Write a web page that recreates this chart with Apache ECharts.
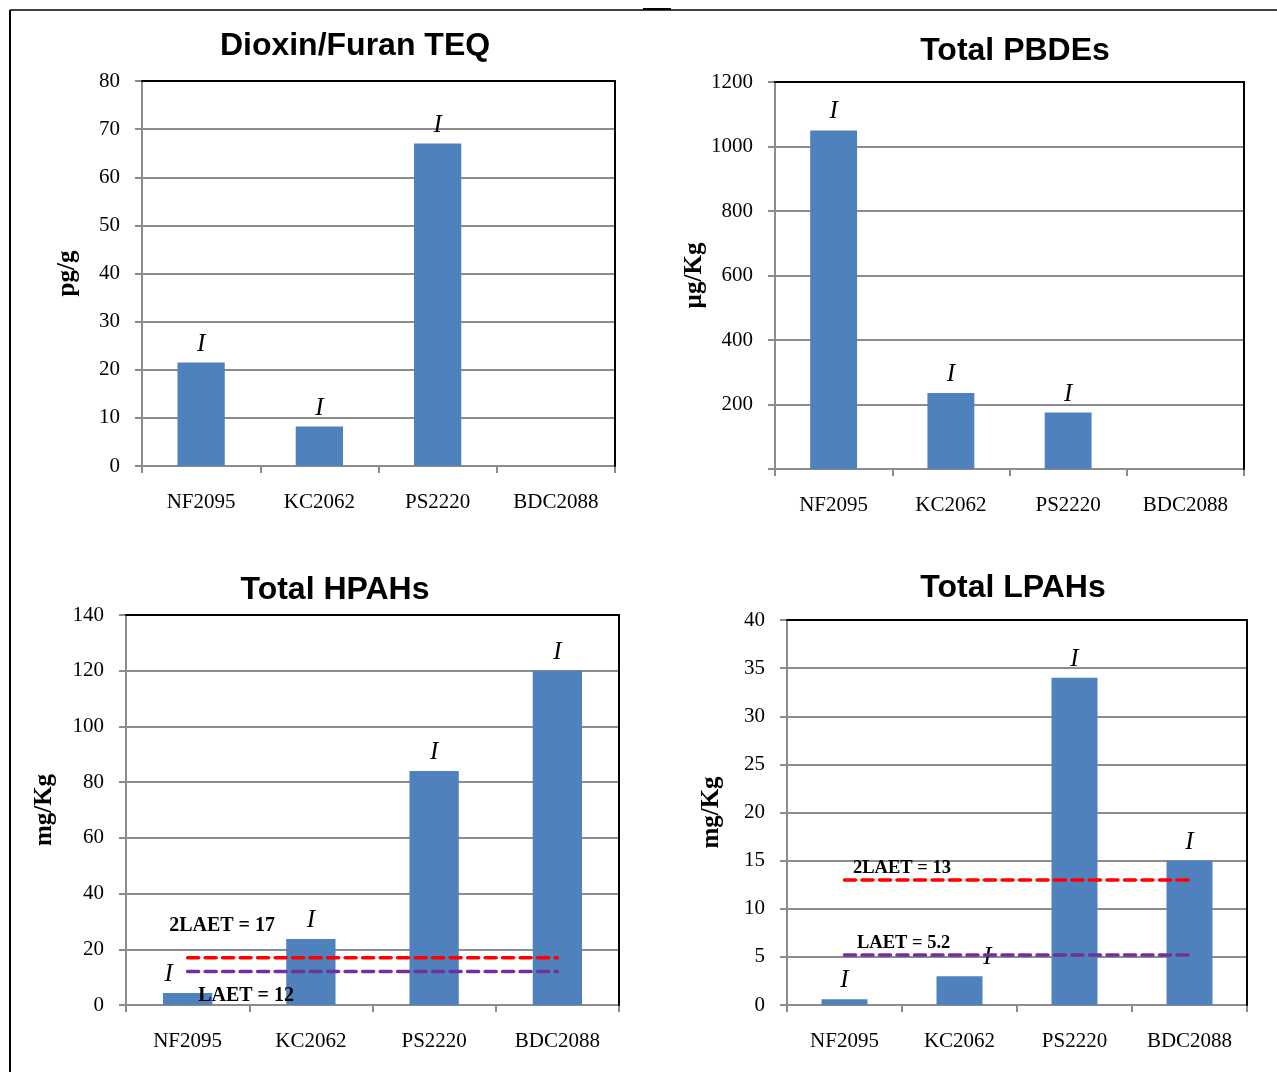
<!DOCTYPE html>
<html>
<head>
<meta charset="utf-8">
<script src="https://cdn.jsdelivr.net/npm/echarts@6/dist/echarts.min.js"></script>
<style>
  html, body { margin: 0; padding: 0; background: #fff; }
  #chart { width: 1277px; height: 1072px; }
</style>
</head>
<body>
<div id="chart"></div>
<script>
// Sample stations
const categories = ['NF2095', 'KC2062', 'PS2220', 'BDC2088'];

// Measured concentrations (null = no result plotted)
const dioxinTEQ  = [21.5, 8.2, 67, null];     // pg/g
const totalPBDEs = [1050, 236, 175, null];    // µg/Kg
const totalHPAHs = [4.3, 23.7, 84, 120];      // mg/Kg
const totalLPAHs = [0.6, 3.0, 34, 15];        // mg/Kg

// Screening levels
const hpahLAET = 12;
const hpah2LAET = 17;
const lpahLAET = 5.2;
const lpah2LAET = 13;

// Data qualifier shown above each result
const qualifier = 'I';

// Value axis ranges
const dioxinTicks = { min: 0, max: 80, interval: 10 };
const pbdeTicks   = { min: 0, max: 1200, interval: 200 };
const hpahTicks   = { min: 0, max: 140, interval: 20 };
const lpahTicks   = { min: 0, max: 40, interval: 5 };

const SERIF = '"Liberation Serif", "Times New Roman", serif';
const SANS = '"Liberation Sans", Arial, sans-serif';
const BAR_COLOR = '#4F81BD';
const GRID_GRAY = '#8C8C8C';

const panels = [
  { title: 'Dioxin/Furan TEQ', unit: 'pg/g', data: dioxinTEQ, ticks: dioxinTicks,
    grid: { left: 142, top: 81, width: 473, height: 385 }, titlePos: [355, 30], nameGap: 62, hideZero: false },
  { title: 'Total PBDEs', unit: 'µg/Kg', data: totalPBDEs, ticks: pbdeTicks,
    grid: { left: 775, top: 82, width: 469, height: 387 }, titlePos: [1015, 35], nameGap: 66, hideZero: true },
  { title: 'Total HPAHs', unit: 'mg/Kg', data: totalHPAHs, ticks: hpahTicks,
    grid: { left: 126, top: 615, width: 493, height: 390 }, titlePos: [335, 574], nameGap: 69, hideZero: false,
    labelShift: { 0: [-19, 0] },
    limits: [
      { value: hpah2LAET, name: '2LAET', color: '#FF0000', offset: [-19, -32], size: 20 },
      { value: hpahLAET, name: 'LAET', color: '#7030A0', offset: [10, 24], size: 20 }
    ] },
  { title: 'Total LPAHs', unit: 'mg/Kg', data: totalLPAHs, ticks: lpahTicks,
    grid: { left: 787, top: 620, width: 460, height: 385 }, titlePos: [1013, 572], nameGap: 63, hideZero: false,
    labelShift: { 1: [28, 0] },
    limits: [
      { value: lpah2LAET, name: '2LAET', color: '#FF0000', offset: [8, -12], size: 18.5 },
      { value: lpahLAET, name: 'LAET', color: '#7030A0', offset: [12, -12], size: 18.5 }
    ] }
];

const option = {
  animation: false,
  backgroundColor: '#fff',
  title: [],
  grid: [],
  xAxis: [],
  yAxis: [],
  series: [],
  graphic: [
    // outer frame lines
    { type: 'line', shape: { x1: 10, y1: 10, x2: 1277, y2: 10 }, style: { stroke: '#000', lineWidth: 1.5 }, silent: true },
    { type: 'line', shape: { x1: 10, y1: 10, x2: 10, y2: 1072 }, style: { stroke: '#000', lineWidth: 2 }, silent: true },
    { type: 'rect', shape: { x: 643, y: 8, width: 28, height: 2 }, style: { fill: '#000' }, silent: true }
  ]
};

panels.forEach((p, i) => {
  option.title.push({
    text: p.title,
    left: p.titlePos[0],
    top: p.titlePos[1],
    textAlign: 'center',
    padding: 0,
    textStyle: { fontFamily: SANS, fontWeight: 'bold', fontSize: 32, color: '#000' }
  });

  option.grid.push(Object.assign({ containLabel: false }, p.grid));

  // bottom category axis
  option.xAxis.push({
    type: 'category',
    gridIndex: i,
    data: categories,
    boundaryGap: true,
    axisLine: { show: true, onZero: false, lineStyle: { color: GRID_GRAY, width: 2 } },
    axisTick: { show: true, length: 7, lineStyle: { color: GRID_GRAY, width: 2 } },
    axisLabel: { margin: 26, fontFamily: SERIF, fontSize: 21, color: '#000' },
    splitLine: { show: false }
  });
  // top edge of the plot frame
  option.xAxis.push({
    type: 'category',
    gridIndex: i,
    position: 'top',
    data: categories,
    z: 3,
    axisLine: { show: true, onZero: false, lineStyle: { color: '#000', width: 2 } },
    axisTick: { show: false },
    axisLabel: { show: false },
    splitLine: { show: false }
  });

  // left value axis
  option.yAxis.push({
    type: 'value',
    gridIndex: i,
    min: p.ticks.min,
    max: p.ticks.max,
    interval: p.ticks.interval,
    name: p.unit,
    nameLocation: 'middle',
    nameRotate: 90,
    nameGap: p.nameGap,
    nameTextStyle: { fontFamily: SERIF, fontWeight: 'bold', fontSize: 25, color: '#000' },
    axisLine: { show: true, onZero: false, lineStyle: { color: GRID_GRAY, width: 2 } },
    axisTick: { show: true, length: 7, lineStyle: { color: GRID_GRAY, width: 2 } },
    axisLabel: {
      margin: 22, fontFamily: SERIF, fontSize: 21, color: '#000',
      formatter: v => (p.hideZero && v === 0) ? '' : String(v)
    },
    splitLine: { show: true, lineStyle: { color: GRID_GRAY, width: 2 } }
  });
  // right edge of the plot frame
  option.yAxis.push({
    type: 'value',
    gridIndex: i,
    position: 'right',
    min: p.ticks.min,
    max: p.ticks.max,
    interval: p.ticks.interval,
    z: 3,
    axisLine: { show: true, onZero: false, lineStyle: { color: '#000', width: 2 } },
    axisTick: { show: false },
    axisLabel: { show: false },
    splitLine: { show: false }
  });

  const shifts = p.labelShift || {};
  option.series.push({
    type: 'bar',
    xAxisIndex: 2 * i,
    yAxisIndex: 2 * i,
    barWidth: '40%',
    itemStyle: { color: BAR_COLOR },
    z: 2,
    label: {
      show: true,
      position: 'top',
      distance: 6,
      formatter: () => qualifier,
      fontFamily: SERIF,
      fontStyle: 'italic',
      fontSize: 25,
      color: '#000'
    },
    data: p.data.map((v, k) => {
      if (v === null) return '-';
      if (shifts[k]) return { value: v, label: { offset: shifts[k] } };
      return v;
    })
  });

  (p.limits || []).forEach(l => {
    option.series.push({
      type: 'line',
      xAxisIndex: 2 * i,
      yAxisIndex: 2 * i,
      symbol: 'circle',
      symbolSize: 1,
      showSymbol: true,
      itemStyle: { color: 'rgba(0,0,0,0)', borderWidth: 0 },
      z: 4,
      lineStyle: { color: l.color, width: 3.5, type: [11, 6.5], cap: 'round' },
      label: { show: false },
      data: categories.map((c, k) => k === 0 ? {
        value: l.value,
        label: {
          show: true,
          position: 'right',
          distance: 0,
          offset: l.offset,
          formatter: () => l.name + ' = ' + l.value,
          fontFamily: SERIF,
          fontWeight: 'bold',
          fontSize: l.size,
          color: '#000'
        }
      } : l.value)
    });
  });
});

const chart = echarts.init(document.getElementById('chart'), null, { renderer: 'canvas' });
chart.setOption(option);
</script>
</body>
</html>
